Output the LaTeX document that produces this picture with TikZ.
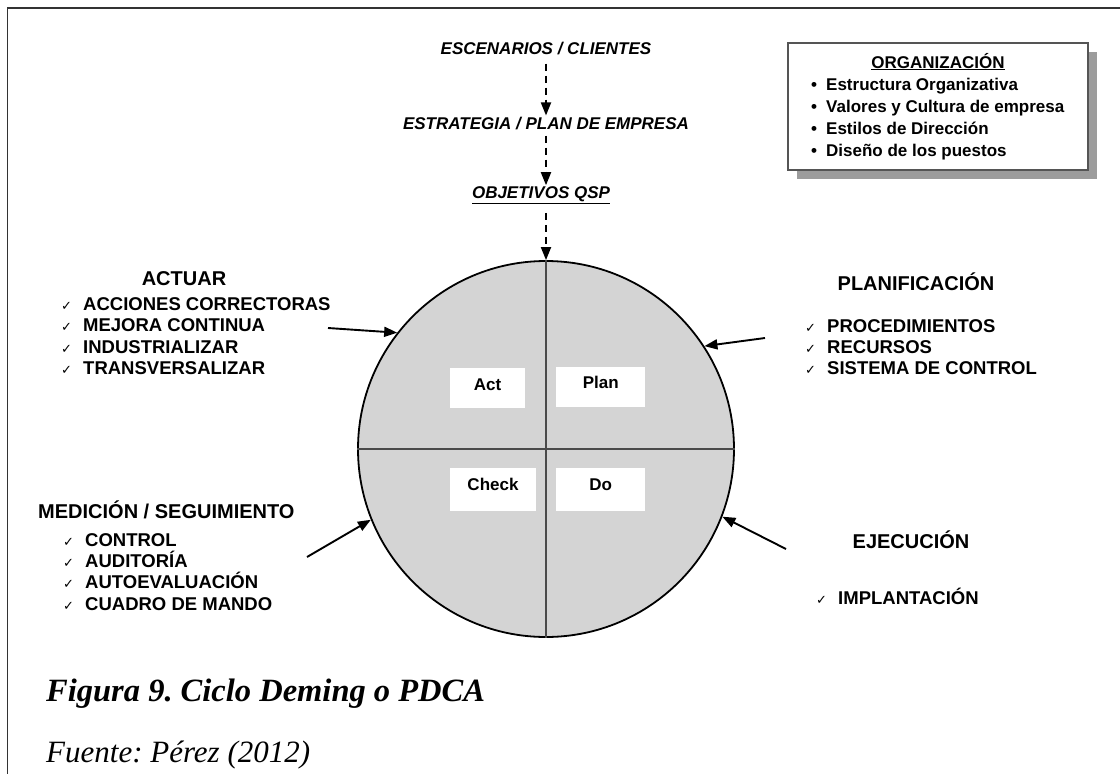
\documentclass[tikz,border=0pt]{standalone}
\usepackage{fontspec}
\setmainfont{Liberation Serif}
\setsansfont{Liberation Sans}
\newfontfamily\symf{DejaVu Sans}
\usepackage{xcolor}
\definecolor{cycc}{HTML}{D4D4D4}
\definecolor{axc}{HTML}{4A4A4A}
\definecolor{shdc}{HTML}{9C9C9C}
\definecolor{obc}{HTML}{555555}
\definecolor{frmc}{HTML}{333333}
\usetikzlibrary{arrows.meta,positioning}
\frenchspacing
\tikzset{
  >={Triangle[length=13pt,width=10pt]},
  toptxt/.style={font=\sffamily\bfseries\itshape\fontsize{17}{20}\selectfont,inner sep=1pt},
  hdg/.style={font=\sffamily\bfseries\fontsize{20}{24}\selectfont,inner sep=0pt,anchor=base},
  lst/.style={font=\sffamily\bfseries\fontsize{18.5}{21}\selectfont,anchor=base west,inner sep=0pt},
  orgit/.style={font=\sffamily\bfseries\fontsize{17}{20}\selectfont,anchor=base west,inner sep=0pt},
  qbox/.style={fill=white,inner sep=0pt,text height=22pt,font=\sffamily\bfseries\fontsize{17}{20}\selectfont},
  obox/.style={draw=obc,line width=1.2pt,fill=white,minimum width=300pt,minimum height=127pt},
  dasharr/.style={->,dash pattern=on 7pt off 5pt,line width=1.8pt},
  solarr/.style={->,line width=1.9pt},
  axl/.style={draw=axc,line width=1.3pt},
  captxt/.style={font=\rmfamily\frenchspacing\fontsize{31}{36}\selectfont,anchor=base west,inner sep=0pt},
}
\newcommand{\chk}{\makebox[22pt][l]{\symf\fontsize{13}{13}\selectfont ✓}}
\newcommand{\bul}{\makebox[15pt][l]{\textbullet}}

\begin{document}
\begin{tikzpicture}[x=1pt,y=-1pt]
  \useasboundingbox (0,0) rectangle (1120,774);
  \draw[frmc,line width=1.8pt] (7.5,774) -- (7.5,8) -- (1120,8);
  % cadena superior
  \node[toptxt] (esc) at (546,49) {ESCENARIOS / CLIENTES};
  \node[toptxt] (est) at (546,124) {ESTRATEGIA / PLAN DE EMPRESA};
  \node[toptxt] (obj) at (541,195) {\underline{OBJETIVOS QSP}};
  % ciclo
  \node[circle,draw,line width=1.8pt,fill=cycc,minimum size=376pt,inner sep=0pt] (cyc) at (546,449) {};
  \draw[axl] (cyc.north) -- (cyc.south);
  \draw[axl] (cyc.west) -- (cyc.east);
  \draw[dasharr,shorten <=7pt,shorten >=1pt] (esc) -- (est);
  \draw[dasharr,shorten <=4pt] (est) -- (obj.north -| est.south);
  \draw[dasharr,shorten <=8pt] (obj.south -| cyc.north) -- (cyc.north);
  \node[qbox,text depth=18pt,minimum width=75pt] (act) at (487.5,388) {Act};
  \node[qbox,text depth=18pt,minimum width=89pt] (pln) at (600.7,386.7) {Plan};
  \node[qbox,text depth=21pt,minimum width=86pt] (chk) at (493,489.7) {Check};
  \node[qbox,text depth=21pt,minimum width=89pt] (dop) at (600.7,489.7) {Do};
  % organizacion
  \node[obox,fill=shdc,draw=none] (orgs) at (947,115.5) {};
  \node[obox] (org) at (938,106.5) {};
  \node[orgit,anchor=base] (orgt) at (938,68) {\underline{ORGANIZACIÓN}};
  \node[orgit] (org1) at (811,90) {\bul Estructura Organizativa};
  \node[orgit] (org2) at (811,112) {\bul Valores y Cultura de empresa};
  \node[orgit] (org3) at (811,134) {\bul Estilos de Dirección};
  \node[orgit] (org4) at (811,156) {\bul Diseño de los puestos};
  % actuar
  \node[hdg] (actH) at (184,285) {ACTUAR};
  \node[lst] (act1) at (61,310) {\chk ACCIONES CORRECTORAS};
  \node[lst] (act2) at (61,331.5) {\chk MEJORA CONTINUA};
  \node[lst] (act3) at (61,353) {\chk INDUSTRIALIZAR};
  \node[lst] (act4) at (61,374.5) {\chk TRANSVERSALIZAR};
  \coordinate (actIn) at (328,328);
  \draw[solarr] (actIn) -- (cyc.142.6);
  % planificacion
  \node[hdg] (plaH) at (916,290) {PLANIFICACIÓN};
  \node[lst] (pla1) at (805,332) {\chk PROCEDIMIENTOS};
  \node[lst] (pla2) at (805,353) {\chk RECURSOS};
  \node[lst] (pla3) at (805,374) {\chk SISTEMA DE CONTROL};
  \coordinate (plaIn) at (765,338);
  \draw[solarr] (plaIn) -- (cyc.33.5);
  % medicion
  \node[hdg,anchor=base west] (medH) at (38,518.5) {MEDICIÓN / SEGUIMIENTO};
  \node[lst] (med1) at (63,546.5) {\chk CONTROL};
  \node[lst] (med2) at (63,567.5) {\chk AUDITORÍA};
  \node[lst] (med3) at (63,588.5) {\chk AUTOEVALUACIÓN};
  \node[lst] (med4) at (63,610) {\chk CUADRO DE MANDO};
  \coordinate (medIn) at (307,557);
  \draw[solarr] (medIn) -- (cyc.202.2);
  % ejecucion
  \node[hdg] (ejeH) at (911,548) {EJECUCIÓN};
  \node[lst] (eje1) at (816,604) {\chk IMPLANTACIÓN};
  \coordinate (ejeIn) at (786,549);
  \draw[solarr] (ejeIn) -- (cyc.339);
  % pie
  \node[captxt,font=\rmfamily\fontsize{32.5}{36}\selectfont] (fig) at (46,701) {\bfseries\itshape Figura 9. Ciclo Deming o PDCA};
  \node[captxt] (src) at (46,762) {\itshape Fuente: Pérez (2012)};
\end{tikzpicture}
\end{document}
